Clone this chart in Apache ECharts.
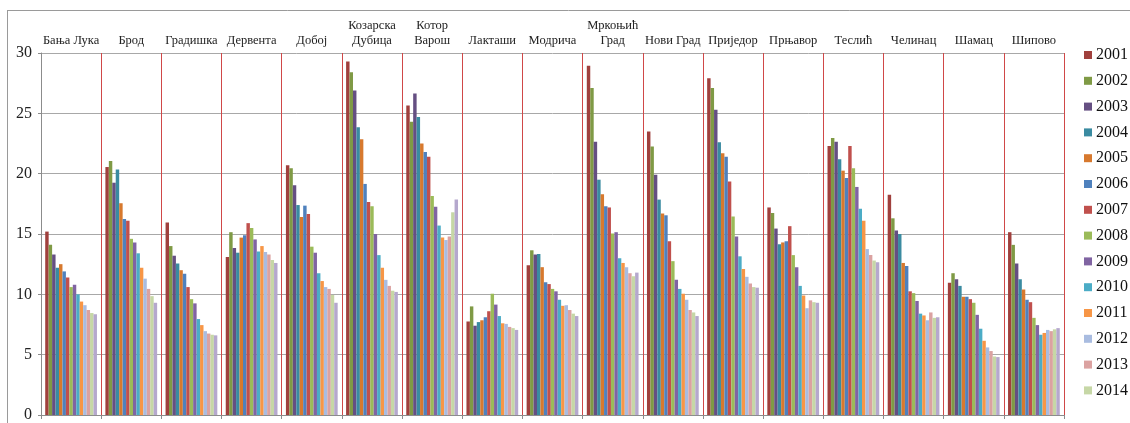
<!DOCTYPE html>
<html>
<head>
<meta charset="utf-8">
<script src="https://cdn.jsdelivr.net/npm/echarts@6/dist/echarts.min.js"></script>
<style>
html,body{margin:0;padding:0;background:#fff;}
#chart{width:1130px;height:423px;}
</style>
</head>
<body>
<div id="chart"></div>
<script>
const categories = ["Бања Лука","Брод","Градишка","Дервента","Добој","Козарска\nДубица","Котор\nВарош","Лакташи","Модрича","Мркоњић\nГрад","Нови Град","Приједор","Прњавор","Теслић","Челинац","Шамац","Шипово"];
const years = ["2001","2002","2003","2004","2005","2006","2007","2008","2009","2010","2011","2012","2013","2014","2015"];
const legendYears = ["2001","2002","2003","2004","2005","2006","2007","2008","2009","2010","2011","2012","2013","2014"];
const yTicks = [0,5,10,15,20,25,30];

// values per municipality, one entry per year (2001..2015)
const banjaLuka   = [15.2,14.1,13.3,12.2,12.5,11.9,11.4,10.6,10.8,10.0,9.4,9.1,8.7,8.45,8.35];
const brod        = [20.55,21.05,19.25,20.35,17.55,16.25,16.1,14.6,14.3,13.4,12.2,11.3,10.45,9.85,9.3];
const gradiska    = [15.95,14.0,13.2,12.55,12.0,11.7,10.6,9.6,9.25,7.95,7.45,6.95,6.75,6.65,6.6];
const derventa    = [13.1,15.15,13.85,13.45,14.7,14.9,15.9,15.5,14.55,13.55,14.0,13.5,13.3,12.85,12.6];
const doboj       = [20.7,20.45,19.05,17.4,16.4,17.35,16.65,13.95,13.45,11.75,11.1,10.6,10.45,9.95,9.3];
const kozarska    = [29.3,28.4,26.9,23.85,22.85,19.15,17.65,17.3,15.0,13.25,12.2,11.2,10.7,10.3,10.2];
const kotorVaros  = [25.65,24.3,26.65,24.7,22.5,21.8,21.4,18.15,17.25,15.7,14.7,14.5,14.8,16.8,17.85];
const laktasi     = [7.75,9.0,7.4,7.7,7.85,8.1,8.6,10.05,9.15,8.2,7.6,7.55,7.3,7.2,7.05];
const modrica     = [12.4,13.65,13.3,13.35,12.25,11.0,10.85,10.45,10.25,9.55,9.05,9.1,8.7,8.4,8.2];
const mrkonjicGrad= [28.95,27.1,22.65,19.5,18.3,17.3,17.2,15.05,15.15,13.0,12.6,12.25,11.75,11.5,11.8];
const noviGrad    = [23.5,22.25,19.9,17.85,16.7,16.55,14.4,12.75,11.2,10.45,10.05,9.55,8.7,8.5,8.2];
const prijedor    = [27.9,27.1,25.3,22.6,21.7,21.4,19.35,16.45,14.8,13.15,12.1,11.45,10.9,10.6,10.55];
const prnjavor    = [17.2,16.75,15.45,14.15,14.3,14.4,15.65,13.25,12.25,10.7,9.9,8.85,9.5,9.35,9.3];
const teslic      = [22.3,22.95,22.65,21.2,20.25,19.65,22.3,20.45,18.9,17.1,16.1,13.75,13.25,12.8,12.65];
const celinac     = [18.25,16.3,15.3,15.0,12.6,12.35,10.25,10.1,9.45,8.4,8.25,7.85,8.5,8.05,8.1];
const samac       = [10.95,11.75,11.25,10.7,9.8,9.8,9.6,9.3,8.3,7.15,6.15,5.6,5.3,4.85,4.8];
const sipovo      = [15.15,14.1,12.55,11.25,10.4,9.55,9.35,8.05,7.45,6.65,6.8,7.05,6.95,7.1,7.2];

const byMunicipality = [banjaLuka,brod,gradiska,derventa,doboj,kozarska,kotorVaros,laktasi,modrica,mrkonjicGrad,noviGrad,prijedor,prnjavor,teslic,celinac,samac,sipovo];

const colors = ["#A0403D","#7F9A45","#654F82","#3A8BA1","#D7792E","#4F81BD","#C0504D","#9BBB59","#8064A2","#4BACC6","#F79646","#A9BCE0","#DBA2A1","#C6D7A6","#B5A8CD"];

const serif = '"Liberation Serif","DejaVu Serif",serif';

const series = years.map((y, i) => ({
  name: y,
  type: 'bar',
  xAxisIndex: 0,
  barGap: '0%',
  barCategoryGap: '14%',
  itemStyle: { color: colors[i] },
  data: byMunicipality.map(m => m[i])
}));

const chart = echarts.init(document.getElementById('chart'), null, {renderer: 'canvas'});
chart.setOption({
  animation: false,
  color: colors,
  textStyle: { fontFamily: serif },
  grid: { left: 41, right: 66, top: 53, bottom: 7, containLabel: false },
  legend: {
    data: legendYears,
    orient: 'vertical',
    left: 1079,
    top: 42,
    itemWidth: 8,
    itemHeight: 8,
    itemGap: 9.8,
    icon: 'rect',
    textStyle: { fontFamily: serif, fontSize: 16, color: '#111', lineHeight: 16, padding: [0,0,0,-1] }
  },
  xAxis: [
    {
      type: 'category',
      position: 'bottom',
      data: categories,
      axisLine: { show: true, lineStyle: { color: '#8c8c8c', width: 1 } },
      axisTick: { show: true, interval: 0, length: 4, lineStyle: { color: '#8c8c8c' } },
      axisLabel: { show: false, interval: 0 },
      splitLine: { show: false }
    },
    {
      type: 'category',
      position: 'top',
      data: categories,
      axisLine: { show: false },
      axisTick: { show: false, interval: 0 },
      splitLine: { show: true, interval: 0, lineStyle: { color: '#d04848', width: 1 } },
      axisLabel: { show: true, interval: 0, margin: 5, fontFamily: serif, fontSize: 12.5, color: '#222', lineHeight: 15 }
    }
  ],
  yAxis: {
    type: 'value',
    min: yTicks[0],
    max: yTicks[yTicks.length - 1],
    interval: 5,
    axisLine: { show: true, lineStyle: { color: '#8c8c8c' } },
    axisTick: { show: true, length: 3, lineStyle: { color: '#8c8c8c' } },
    axisLabel: { margin: 9, fontFamily: serif, fontSize: 16, color: '#222' },
    splitLine: { show: true, lineStyle: { color: '#a8a8a8', width: 1 } }
  },
  graphic: [
    { type: 'line', shape: { x1: 7, y1: 10.5, x2: 1130, y2: 10.5 }, style: { stroke: '#9a9a9a', lineWidth: 1 } },
    { type: 'line', shape: { x1: 7.5, y1: 10, x2: 7.5, y2: 423 }, style: { stroke: '#9a9a9a', lineWidth: 1 } }
  ],
  series: series
});
</script>
</body>
</html>
